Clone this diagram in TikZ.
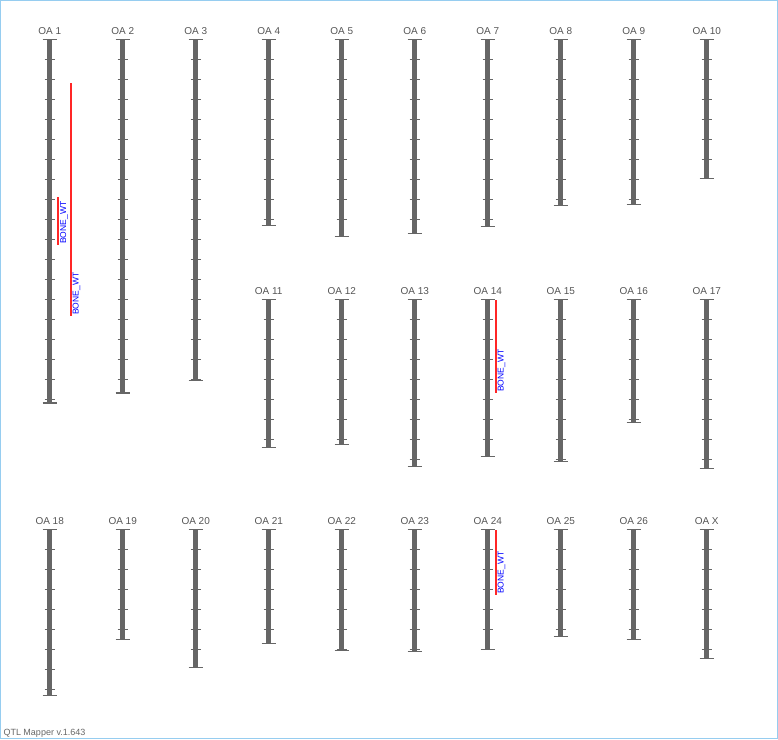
\documentclass[tikz,border=0pt]{standalone}
\usepackage{fontspec}
\setmainfont{Liberation Sans}
\definecolor{chrgray}{RGB}{102,102,102}
\definecolor{labgray}{RGB}{85,85,85}
\definecolor{framebl}{RGB}{150,205,240}

\begin{document}
\begin{tikzpicture}[x=1pt, y=-1pt,
    chrom/.style={draw=chrgray, line width=4.5pt},
    capline/.style={draw=chrgray, line width=1.6pt},
    tickline/.style={draw=chrgray, line width=1pt},
    qtl/.style={draw=red!85!white, line width=1.8pt},
    qtllabel/.style={text=blue, font=\fontsize{8.5}{9}\selectfont, rotate=90, anchor=north west, inner sep=0pt},
    chrlabel/.style={text=labgray, font=\fontsize{10}{11}\selectfont, inner sep=0pt, anchor=base}]

    % Frame
    \draw[framebl, line width=1pt] (0.5,0.5) rectangle (777.5,738.5);
    \useasboundingbox (0,0) rectangle (778,739);

    % Chromosomes: name / x / top / bottom
    \foreach \nm/\cx/\ty/\by in {
        1/49.7/39.5/402.7, 2/122.7/39.5/393, 3/195.7/39.5/380.3,
        4/268.7/39.5/225.3, 5/341.7/39.5/236.3, 6/414.7/39.5/233.3,
        7/487.7/39.5/226.3, 8/560.7/39.5/205.3, 9/633.7/39.5/204.3,
        10/706.7/39.5/178.3,
        11/268.7/299.5/447.3, 12/341.7/299.5/444.3, 13/414.7/299.5/466.3,
        14/487.7/299.5/456.3, 15/560.7/299.5/461.3, 16/633.7/299.5/422.3,
        17/706.7/299.5/468.3,
        18/49.7/529.5/695.3, 19/122.7/529.5/639.3, 20/195.7/529.5/667.3,
        21/268.7/529.5/643.3, 22/341.7/529.5/650.3, 23/414.7/529.5/651.3,
        24/487.7/529.5/649.3, 25/560.7/529.5/636.3, 26/633.7/529.5/639.3,
        X/706.7/529.5/658.3}{
        \node[chrlabel] (lab\nm) at (\cx, \ty-4.8) {OA \nm};
        \draw[chrom] (\cx,\ty) -- (\cx,\by);
        \draw[capline] (\cx-7,\ty) -- (\cx+7,\ty);
        \draw[capline] (\cx-7,\by) -- (\cx+7,\by);
        \pgfmathtruncatemacro\nt{(\by-\ty)/20}
        \foreach \k in {1,...,\nt}
            \draw[tickline] (\cx-5,\ty+20*\k) -- (\cx+5,\ty+20*\k);
    }

    % QTL intervals
    \draw[qtl] (70.7,83) -- (70.7,315.5);
    \node[qtllabel] (qtla) at (72.5,315) {BONE\_WT};
    \draw[qtl] (58.3,197) -- (58.3,245);
    \node[qtllabel] (qtlb) at (60,244) {BONE\_WT};
    \draw[qtl] (495.7,300) -- (495.7,393);
    \node[qtllabel] (qtlc) at (497.5,392) {BONE\_WT};
    \draw[qtl] (495.7,530) -- (495.7,595);
    \node[qtllabel] (qtld) at (497.5,594) {BONE\_WT};

    % Version
    \node[text=labgray!90, font=\fontsize{9}{10}\selectfont, anchor=base west, inner sep=0pt] (version) at (3.3,735.5) {QTL Mapper v.1.643};
\end{tikzpicture}
\end{document}
